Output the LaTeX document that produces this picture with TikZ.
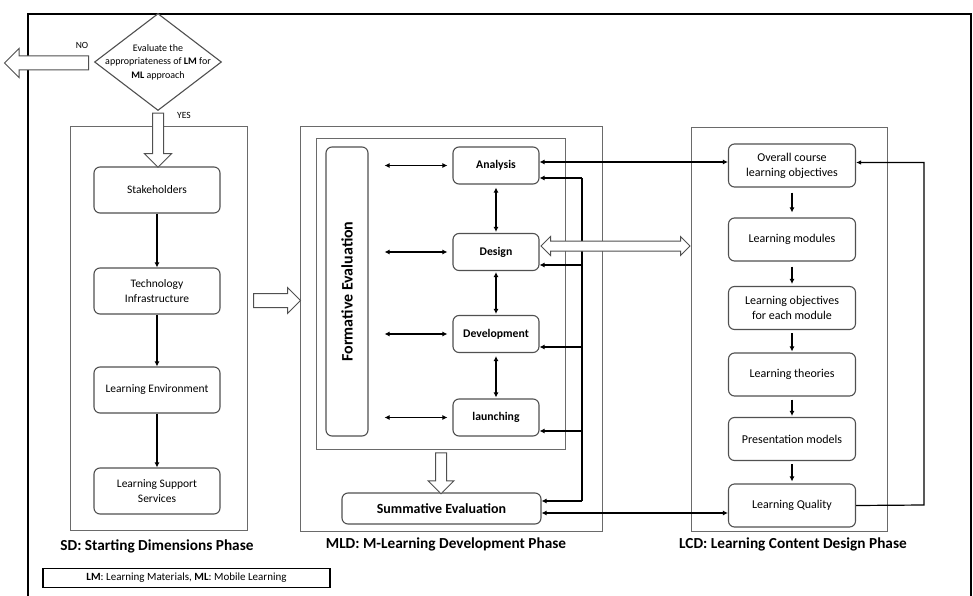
\documentclass[tikz,border=0pt]{standalone}
\usepackage{fontspec}
\setmainfont{Carlito}
\usepackage{xcolor}
\definecolor{BoxLine}{HTML}{505050}
\definecolor{PhaseLine}{HTML}{6A6A6A}
\usetikzlibrary{shapes.geometric,shapes.arrows,arrows.meta,calc}

\begin{document}
\begin{tikzpicture}[
	x=1pt, y=-1pt,
	% Outer frame of the figure
	outer frame/.style={
		draw=black,
		line width=1.8pt
	},
	% Phase rectangles
	phase/.style={
		rectangle,
		draw=PhaseLine,
		line width=1pt
	},
	% Rounded step boxes
	stage box/.style={
		rectangle,
		rounded corners=6pt,
		draw=BoxLine,
		line width=1.1pt,
		fill=white,
		align=center,
		inner sep=2pt,
		font=\fontsize{11.5}{14.5}\selectfont
	},
	sd box/.style={stage box, minimum width=126pt, minimum height=46pt},
	lcd box/.style={stage box, minimum width=127pt, minimum height=43pt,
		font=\fontsize{12}{15}\selectfont},
	mld box/.style={stage box, minimum width=86pt, minimum height=37pt,
		font=\bfseries\fontsize{11.7}{14}\selectfont},
	phase label/.style={
		font=\bfseries\fontsize{15.3}{18}\selectfont
	},
	decision/.style={
		diamond,
		draw=BoxLine,
		line width=1.1pt,
		fill=white,
		inner sep=0pt,
		minimum width=127pt,
		minimum height=97pt
	},
	% Hollow block arrows (shaft width set by the inner sep)
	hollow/.style={
		single arrow,
		draw=BoxLine,
		line width=1pt,
		fill=white,
		inner xsep=0pt
	},
	hollow down/.style={
		hollow,
		shape border rotate=270,
		inner ysep=0pt
	},
	hollow double/.style={
		double arrow,
		draw=BoxLine,
		line width=1pt,
		fill=white,
		inner xsep=0pt
	},
	% Black connectors
	link/.style={
		draw=black,
		line width=1.6pt,
		-{Latex[length=5pt,width=5pt]}
	},
	dbl link/.style={
		link,
		{Latex[length=5pt,width=5pt]}-{Latex[length=5pt,width=5pt]}
	},
	loop link/.style={
		draw=black,
		line width=1.2pt,
		-{Latex[length=5pt,width=4.5pt]}
	}
	]
	\useasboundingbox (0,0) rectangle (973,596);
	
	% ================= FRAME =================
	\draw[outer frame] (28,600) |- (971,14) -- (971,600);
	
	% ================= PHASES =================
	\node[phase, minimum width=177pt, minimum height=403pt] (sd) at (158.5,328.5) {};
	\node[phase, minimum width=302pt, minimum height=404pt] (mld) at (451,329) {};
	\node[phase, minimum width=249pt, minimum height=310pt] (inner) at (440.5,294) {};
	\node[phase, minimum width=196pt, minimum height=403pt] (lcd) at (789,329.5) {};
	
	\node[phase label] (sd label) at (157,546) {SD: Starting Dimensions Phase};
	\node[phase label] (mld label) at (446,544) {MLD: M-Learning Development Phase};
	\node[phase label] (lcd label) at (793,544) {LCD: Learning Content Design Phase};
	
	% ================= NODES =================
	\node[decision, label={[align=center, font=\fontsize{10}{13.5}\selectfont]center:{Evaluate the\\appropriateness of \textbf{LM} for\\\textbf{ML} approach}}] (eval) at (158,62) {};
	\node[font=\fontsize{9.5}{11}\selectfont] (no) at (82,45) {NO};
	\node[font=\fontsize{9.5}{11}\selectfont] (yes) at (184,115) {YES};
	
	\node[sd box] (stake) at (157,190) {Stakeholders};
	\node[sd box] (tech) at (157,291) {Technology\\Infrastructure};
	\node[sd box] (env) at (157,390) {Learning Environment};
	\node[sd box] (support) at (157,491) {Learning Support\\Services};
	
	\node[stage box, rotate=90, minimum width=289pt, minimum height=42pt,
		font=\bfseries\fontsize{16}{18}\selectfont] (formative) at (347,291.5) {Formative Evaluation};
	\node[mld box] (analysis) at (496,165.5) {Analysis};
	\node[mld box] (design) at (496,252) {Design};
	\node[mld box] (development) at (496,334) {Development};
	\node[mld box] (launching) at (496,417.5) {launching};
	\node[stage box, minimum width=199pt, minimum height=31pt,
		font=\bfseries\fontsize{14}{16}\selectfont] (summative) at (441.5,508.5) {Summative Evaluation};
	
	\node[lcd box] (overall) at (792,165.5) {Overall course\\learning objectives};
	\node[lcd box] (modules) at (792,239.5) {Learning modules};
	\node[lcd box] (objectives) at (792,308) {Learning objectives\\for each module};
	\node[lcd box] (theories) at (792,374.5) {Learning theories};
	\node[lcd box] (presentation) at (792,439) {Presentation models};
	\node[lcd box] (quality) at (792,505.5) {Learning Quality};
	
	\node[draw=black, line width=1.6pt, minimum width=287pt, minimum height=19pt, inner sep=0pt,
		font=\fontsize{11}{12}\selectfont] (legend) at (186.5,578) {\textbf{LM}: Learning Materials, \textbf{ML}: Mobile Learning};
	
	% ================= EDGES =================
	\draw[link] (stake) -- (tech);
	\draw[link] (tech) -- (env);
	\draw[link] (env) -- (support);
	
	\foreach \n in {analysis,design,development,launching}
		\draw[dbl link] ([xshift=16pt]formative.south |- \n.west) -- ([xshift=-5pt]\n.west);
	\draw[dbl link, shorten <=3pt, shorten >=1pt] (analysis) -- (design);
	\draw[dbl link, shorten <=1pt, shorten >=1pt] (design) -- (development);
	\draw[dbl link, shorten <=3pt, shorten >=1pt] (development) -- (launching);
	
	% feedback bus into the MLD steps
	\coordinate (bus top) at (582,178);
	\coordinate (bus bottom) at (582,501);
	\draw[draw=black, line width=1.6pt] (bus top) -- (bus bottom);
	\foreach \n/\y in {analysis/178,design/265,development/347,launching/431,summative/501}
		\draw[link] (582,\y) -- (\n.east |- 0,\y);
	
	\draw[dbl link] ([yshift=3.5pt]analysis.east) -- ([yshift=3.5pt]analysis.east -| overall.west);
	\draw[dbl link] ([yshift=-4.5pt]summative.east) -- ([yshift=-4.5pt]summative.east -| quality.west);
	
	\draw[link, shorten <=5pt, shorten >=5pt] (overall) -- (modules);
	\draw[link, shorten <=5pt, shorten >=2pt] (modules) -- (objectives);
	\draw[link, shorten <=3pt, shorten >=1pt] (objectives) -- (theories);
	\draw[link, shorten <=3pt, shorten >=1pt] (theories) -- (presentation);
	\draw[link, shorten <=3pt, shorten >=2pt] (presentation) -- (quality);
	
	\coordinate (loop corner) at (924,505);
	\draw[loop link] (quality.east) -- (loop corner) |- ([yshift=3pt]overall.east);
	
	% ================= BLOCK ARROWS =================
	\node[hollow, shape border rotate=180, minimum height=84pt, inner ysep=6.5pt,
		single arrow head extend=7.5pt] (no arrow) at (50,63) {};
	\node[hollow down, minimum height=54pt, inner xsep=5pt,
		single arrow head extend=8pt] (yes arrow) at (158,137.5) {};
	\node[hollow, minimum height=47pt, inner ysep=6.5pt,
		single arrow head extend=6pt] (sd arrow) at (273.5,300.5) {};
	\node[hollow down, minimum height=41pt, inner xsep=5pt,
		single arrow head extend=7.5pt] (summ arrow) at (441,470.5) {};
	\node[hollow double, minimum height=149pt, inner ysep=4.5pt,
		double arrow head extend=4.5pt] (design arrow) at (615.5,246) {};
\end{tikzpicture}
\end{document}
